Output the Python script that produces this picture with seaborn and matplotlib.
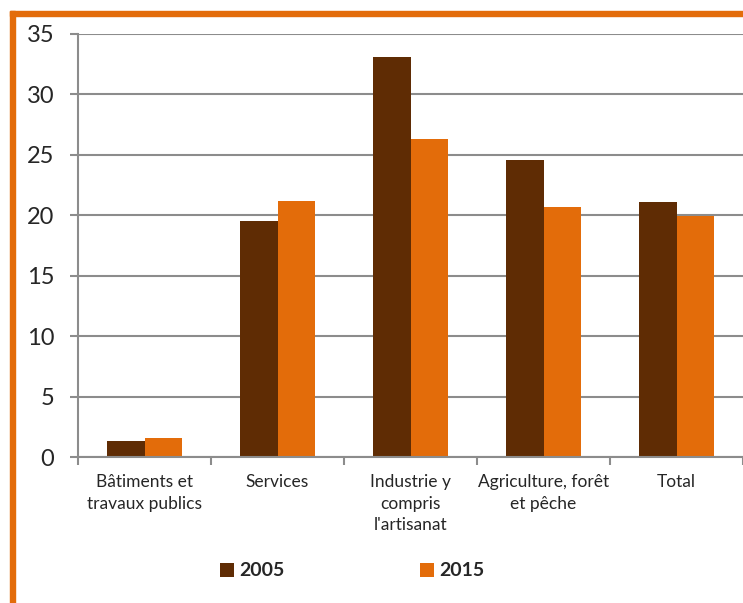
import matplotlib
matplotlib.use("Agg")
import matplotlib.pyplot as plt
from matplotlib.patches import Rectangle
import pandas as pd
import seaborn as sns

# Données
categories = ["Bâtiments et\ntravaux publics", "Services", "Industrie y\ncompris\nl'artisanat",
              "Agriculture, forêt\net pêche", "Total"]
annees = ["2005", "2015"]
valeurs_2005 = [1.3, 19.5, 33.1, 24.6, 21.1]
valeurs_2015 = [1.6, 21.2, 26.3, 20.7, 19.9]
yticks = [0, 5, 10, 15, 20, 25, 30, 35]

couleurs = {"2005": "#5F2C04", "2015": "#E36C0A"}
gris = "#8C8C8C"

df = pd.DataFrame({
    "Catégorie": categories * 2,
    "Année": [annees[0]] * len(categories) + [annees[1]] * len(categories),
    "Valeur": valeurs_2005 + valeurs_2015,
})

sns.set_style("white")
plt.rcParams["font.family"] = ["Lato", "DejaVu Sans"]

fig = plt.figure(figsize=(7.43, 6.03), dpi=100)
ax = fig.add_axes([78 / 743, 1 - 457 / 603, 665 / 743, 423 / 603])

sns.barplot(data=df, x="Catégorie", y="Valeur", hue="Année", palette=couleurs,
            width=0.57, ax=ax, saturation=1, linewidth=0, legend=True)

ax.set_ylim(0, 35)
ax.set_xlim(-0.5, len(categories) - 0.5)
ax.set_yticks(yticks)
ax.set_yticklabels([str(v) for v in yticks], fontsize=17)
ax.yaxis.grid(True, color=gris, linewidth=1.5)
ax.set_axisbelow(True)
ax.tick_params(axis="y", length=6, width=1.5, color=gris, pad=11, left=True)
ax.tick_params(axis="x", which="major", length=0, labelsize=12.5, pad=12)
for lab in ax.get_xticklabels():
    lab.set_linespacing(1.45)
ax.set_xticks([i - 0.5 for i in range(len(categories) + 1)], minor=True)
ax.tick_params(axis="x", which="minor", length=6, width=1.5, color=gris, bottom=True)
ax.set_xlabel("")
ax.set_ylabel("")

for side in ["top", "right"]:
    ax.spines[side].set_visible(False)
for side in ["left", "bottom"]:
    ax.spines[side].set_color(gris)
    ax.spines[side].set_linewidth(1.5)

handles, labels = ax.get_legend_handles_labels()
ax.get_legend().remove()
leg = fig.legend(handles, labels, loc="center", bbox_to_anchor=(0.474, 1 - 571 / 603),
                 ncol=2, frameon=False, handlelength=0.7, handleheight=0.7,
                 handletextpad=0.25, columnspacing=7.0, prop={"size": 14, "weight": "bold"})

# cadre orange en haut et à gauche
orange = "#E36C0A"
fig.patches.append(Rectangle((10 / 743, 1 - 16 / 603), 733 / 743, 5 / 603,
                             transform=fig.transFigure, color=orange, figure=fig))
fig.patches.append(Rectangle((10 / 743, 0), 5 / 743, 1 - 11 / 603,
                             transform=fig.transFigure, color=orange, figure=fig))

fig.savefig("out.png", dpi=100)
